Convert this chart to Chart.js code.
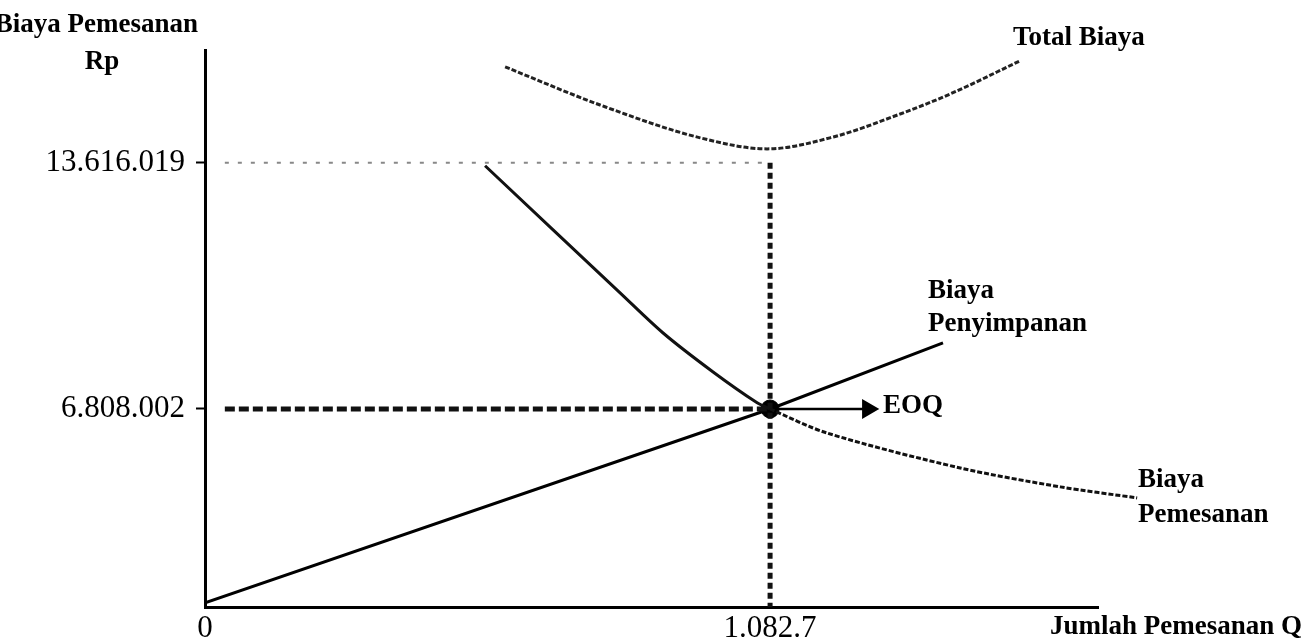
<!DOCTYPE html>
<html>
<head>
<meta charset="utf-8">
<script src="https://cdn.jsdelivr.net/npm/chart.js@4"></script>
<style>
  body { margin: 0; background: #fff; }
  canvas { display: block; }
</style>
</head>
<body>
<canvas id="eoqChart" width="1307" height="640"></canvas>
<script>
// nilai (sumbu y dalam juta Rp, skala gambar)
const qPemesanan = [536.6, 795.3, 877.7, 973.5, 1057.9, 1082.7, 1192, 1447, 1638.6, 1786];
const biayaPemesanan = [15.17, 10.8, 9.42, 8.08, 7.02, 6.808, 5.98, 4.78, 4.13, 3.75];

const qPenyimpanan = [0, 1082.7, 1414];
const biayaPenyimpanan = [0.14, 6.808, 9.08];

const qTotal = [575, 757, 949, 1077, 1204, 1332, 1428, 1562];
const totalBiaya = [18.57, 17.26, 16.13, 15.75, 16.16, 16.95, 17.64, 18.78];

const eoqQ = 1082.7;
const eoqBiaya = 6.808;
const totalMinGaris = 15.27;   // posisi garis 13.616.019 pada gambar
const panahUjung = 1270;

const xTickValues = [0, 1082.7];
const xTickLabels = ['0', '1.082.7'];
const yTickValues = [6.808, 15.27];
const yTickLabels = ['6.808.002', '13.616.019'];

function titik(xs, ys) {
    return xs.map((x, i) => ({ x: x, y: ys[i] }));
}

const labelPlugin = {
    id: 'labelTeks',
    afterDraw(chart) {
        const ctx = chart.ctx;
        ctx.save();
        ctx.fillStyle = '#000';
        ctx.font = 'bold 27px "Liberation Serif"';
        ctx.textBaseline = 'middle';
        ctx.textAlign = 'right';
        ctx.fillText('Biaya Pemesanan', 198, 25);
        ctx.textAlign = 'center';
        ctx.fillText('Rp', 102, 62);
        ctx.textAlign = 'left';
        ctx.fillText('Total Biaya', 1013, 38);
        ctx.fillText('Biaya', 928, 291);
        ctx.fillText('Penyimpanan', 928, 324);
        ctx.fillText('EOQ', 883, 406);
        ctx.fillText('Biaya', 1138, 480);
        ctx.fillText('Pemesanan', 1138, 515);
        ctx.fillText('Jumlah Pemesanan Q', 1050, 627);
        ctx.restore();
    }
};

const ctx = document.getElementById('eoqChart').getContext('2d');
const chart = new Chart(ctx, {
    type: 'line',
    data: {
        datasets: [
            {
                label: 'garis 13.616.019',
                data: [{ x: 38, y: totalMinGaris }, { x: eoqQ, y: totalMinGaris }],
                borderColor: '#888',
                borderWidth: 2,
                borderDash: [4, 9],
                pointRadius: 0
            },
            {
                label: 'garis EOQ',
                data: [{ x: eoqQ, y: totalMinGaris }, { x: eoqQ, y: 0 }],
                borderColor: '#111',
                borderWidth: 5,
                borderDash: [6, 4],
                pointRadius: 0
            },
            {
                label: 'garis 6.808.002',
                data: [{ x: 38, y: eoqBiaya }, { x: eoqQ, y: eoqBiaya }],
                borderColor: '#111',
                borderWidth: 5,
                borderDash: [10, 4],
                pointRadius: 0
            },
            {
                label: 'Total Biaya',
                data: titik(qTotal, totalBiaya),
                borderColor: '#222',
                borderWidth: 3,
                borderDash: [5, 2],
                cubicInterpolationMode: 'monotone',
                pointRadius: 0,
                clip: false
            },
            {
                label: 'Biaya Pemesanan',
                data: titik(qPemesanan, biayaPemesanan),
                borderColor: '#111',
                borderWidth: 3,
                tension: 0.3,
                segment: {
                    borderDash: s => s.p0.parsed.x >= eoqQ ? [5, 2] : undefined
                },
                pointRadius: 0,
                clip: false
            },
            {
                label: 'Biaya Penyimpanan',
                data: titik(qPenyimpanan, biayaPenyimpanan),
                borderColor: '#000',
                borderWidth: 3,
                pointRadius: 0
            },
            {
                label: 'panah EOQ',
                data: [{ x: eoqQ, y: eoqBiaya }, { x: panahUjung, y: eoqBiaya }],
                borderColor: '#000',
                backgroundColor: '#000',
                borderWidth: 2.5,
                pointStyle: 'triangle',
                rotation: 90,
                pointRadius: [0, 9],
                clip: false
            },
            {
                label: 'EOQ',
                data: [{ x: eoqQ, y: eoqBiaya }],
                borderColor: '#000',
                backgroundColor: '#000',
                pointRadius: 9,
                showLine: false
            }
        ]
    },
    options: {
        responsive: false,
        animation: false,
        layout: {
            padding: { top: 50, right: 209, left: 0, bottom: 0 }
        },
        plugins: {
            legend: { display: false },
            tooltip: { enabled: false }
        },
        scales: {
            x: {
                type: 'linear',
                min: 0,
                max: 1711,
                afterFit: s => { s.height = 33; },
                afterBuildTicks: s => { s.ticks = xTickValues.map(v => ({ value: v })); },
                grid: { display: false },
                border: { display: true, color: '#000', width: 3 },
                ticks: {
                    autoSkip: false,
                    maxRotation: 0,
                    padding: -5,
                    color: '#000',
                    font: { family: '"Liberation Serif"', size: 31 },
                    callback: v => xTickLabels[xTickValues.indexOf(v)]
                }
            },
            y: {
                type: 'linear',
                min: 0,
                max: 19.15,
                afterFit: s => { s.width = 205; },
                afterBuildTicks: s => { s.ticks = yTickValues.map(v => ({ value: v })); },
                grid: {
                    drawOnChartArea: false,
                    drawTicks: true,
                    tickLength: 9,
                    tickWidth: 2,
                    tickColor: '#000'
                },
                border: { display: true, color: '#000', width: 3 },
                ticks: {
                    autoSkip: false,
                    padding: 11,
                    color: '#000',
                    font: { family: '"Liberation Serif"', size: 31 },
                    callback: v => yTickLabels[yTickValues.indexOf(v)]
                }
            }
        }
    },
    plugins: [labelPlugin]
});
</script>
</body>
</html>
